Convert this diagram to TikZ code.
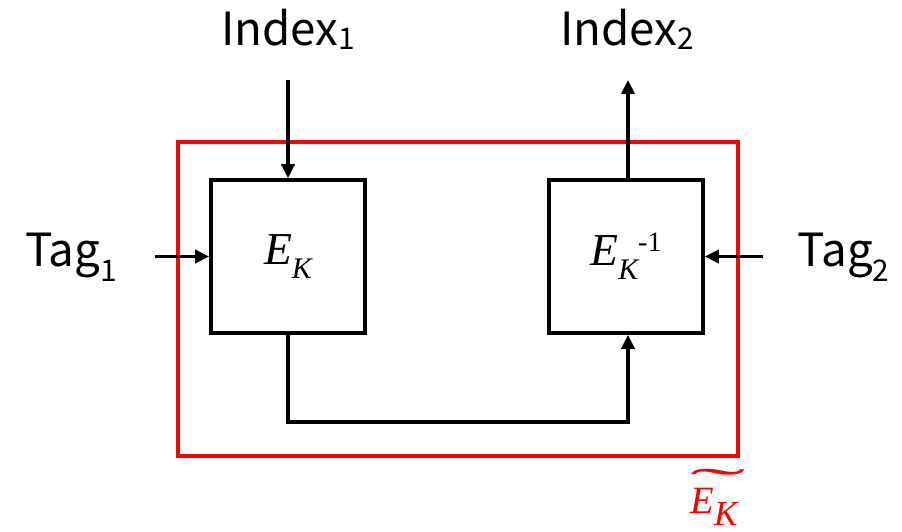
\documentclass[tikz,border=0pt]{standalone}
\usepackage{graphicx}
\usepackage{fontspec}
\setmainfont{Noto Sans CJK JP}
\newfontfamily\tms{Liberation Serif}
\usetikzlibrary{arrows.meta}

% lowered small index digit
\newcommand{\lowsub}[2]{\raisebox{-#1}{\fontsize{17pt}{17pt}\selectfont #2}}
% the block cipher symbol
\newcommand{\encsym}{{\tms\itshape\fontsize{26pt}{26pt}\selectfont E\raisebox{-8pt}{\fontsize{17pt}{17pt}\selectfont K}}}
% wide tilde over the tweakable cipher
\newcommand{\widetld}{\rlap{\raisebox{7pt}{\scalebox{4.3}[1.2]{\upshape\char"02DC}}}}

\begin{document}
\begin{tikzpicture}[
    blk/.style={draw, line width=2.1pt, minimum width=3.08cm, minimum height=3.06cm, inner sep=0pt},
    lbl/.style={anchor=base, inner sep=0pt, font=\fontsize{26pt}{26pt}\selectfont},
    arr/.style={-{Triangle[length=8pt,width=7.5pt]}, line width=1.9pt}]
    \useasboundingbox (0,0) rectangle (18.04,10.62);
    % tweakable cipher frame
    \node[draw=red, line width=2.3pt, minimum width=11.2cm, minimum height=6.28cm] (frame) at (9.16,4.64) {};
    \node[anchor=base, inner sep=0pt, text=red] (tlabel) at (14.28,0.36)
        {\tms\itshape\fontsize{22pt}{22pt}\selectfont\widetld E\raisebox{-7pt}{\fontsize{20pt}{20pt}\selectfont K}};
    % the two blocks
    \node[blk] (enc) at (5.76,5.49) {\encsym};
    \node[blk] (dec) at (12.52,5.49) {\encsym\raisebox{8pt}{\tms\fontsize{16pt}{16pt}\selectfont -1}};
    % outside labels
    \node[lbl] (idx1) at (5.76,9.70) {Index\lowsub{2pt}{1}};
    \node[lbl] (idx2) at (12.54,9.70) {Index\lowsub{2pt}{2}};
    \node[lbl] (tag1) at (1.42,5.28) {Tag\lowsub{8pt}{1}};
    \node[lbl] (tag2) at (16.87,5.28) {Tag\lowsub{8pt}{2}};
    \coordinate (i1) at (5.76,9.02);
    \coordinate (i2) at (12.56,9.02);
    \coordinate (t1) at (3.10,5.49);
    \coordinate (t2) at (15.26,5.49);
    \coordinate (low) at (9,2.18);
    % connections
    \draw[arr] (i1) -- (enc.north);
    \draw[arr] (dec.north -| i2) -- (i2);
    \draw[arr] (t1) -- (enc.west);
    \draw[arr] (t2) -- (dec.east);
    \draw[arr] (enc.south) -- (enc.south |- low) -| ([xshift=0.04cm]dec.south);
\end{tikzpicture}
\end{document}
